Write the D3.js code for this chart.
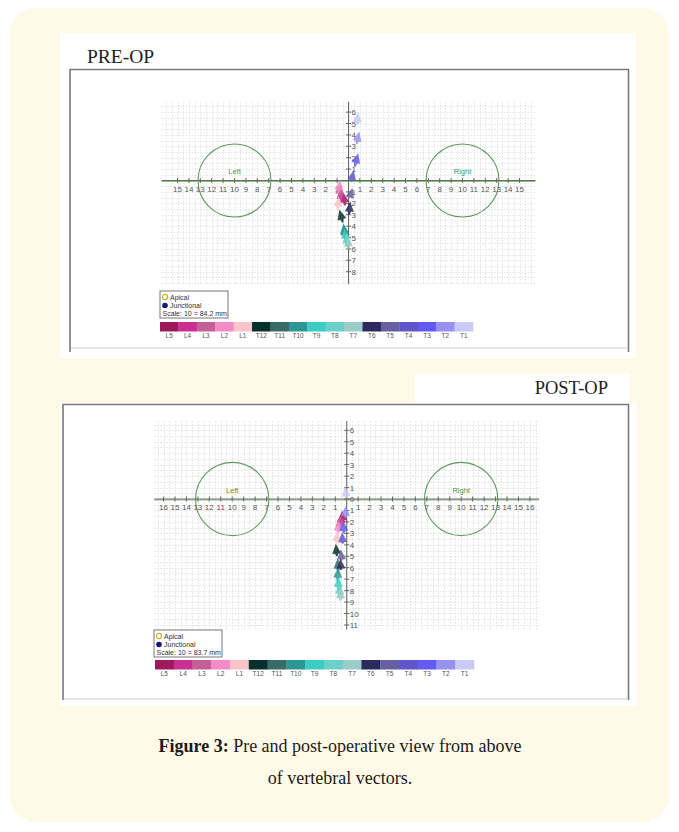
<!DOCTYPE html>
<html>
<head>
<meta charset="utf-8">
<script src="https://cdn.jsdelivr.net/npm/d3@7/dist/d3.min.js"></script>
<style>
  body { margin: 0; background: #fff; }
  svg { display: block; }
</style>
</head>
<body>
<div id="chart"></div>
<script>
// Vertebrae, in colour bar order
var vertebrae = ['L5', 'L4', 'L3', 'L2', 'L1', 'T12', 'T11', 'T10', 'T9', 'T8', 'T7', 'T6', 'T5', 'T4', 'T3', 'T2', 'T1'];
var vertebraColors = ['#9c1a5c', '#c92f93', '#c45f98', '#f28bc8', '#f7c4c8', '#06302c', '#386b66', '#2d9893',
                      '#3cccc4', '#6ccfc9', '#9accc8', '#2c2a5c', '#675fa0', '#5f57c9', '#625af2', '#9891ee', '#cdc9f6'];

// Vertebral vectors, view from above: [tailX, tailY, headX, headY] in grid units
var preVectors = [
  [-0.30, -2.20, -0.45, -1.05],
  [-0.60, -1.90, -0.75, -0.70],
  [-0.80, -1.50, -0.70, -0.30],
  [-0.90, -1.20, -0.72, 0.05],
  [-0.95, -2.60, -0.85, -1.40],
  [-0.50, -3.70, -0.80, -2.55],
  [-0.30, -5.00, -0.40, -3.90],
  [-0.25, -5.40, -0.45, -3.75],
  [-0.20, -5.60, -0.35, -4.20],
  [-0.10, -5.90, -0.20, -4.60],
  [0.00, -6.00, -0.05, -4.90],
  [0.05, -3.00, 0.15, -1.85],
  [0.10, -1.50, 0.35, -0.65],
  [0.25, -0.10, 0.45, 0.90],
  [0.55, 1.20, 0.85, 2.40],
  [0.70, 3.20, 0.95, 4.30],
  [0.75, 4.90, 0.85, 6.00]
];
var postVectors = [
  [-0.35, -2.00, -0.40, -1.00],
  [-0.50, -2.20, -0.45, -1.20],
  [-0.60, -2.60, -0.55, -1.50],
  [-0.75, -3.00, -0.70, -1.90],
  [-0.90, -3.90, -0.80, -2.80],
  [-0.85, -5.00, -0.95, -3.90],
  [-0.75, -6.40, -0.80, -5.20],
  [-0.80, -7.20, -0.75, -6.00],
  [-0.75, -8.00, -0.70, -6.80],
  [-0.65, -8.60, -0.60, -7.40],
  [-0.55, -8.90, -0.50, -7.80],
  [-0.50, -6.20, -0.55, -5.20],
  [-0.45, -5.40, -0.50, -4.40],
  [-0.35, -3.90, -0.40, -2.90],
  [-0.25, -3.00, -0.30, -1.90],
  [-0.10, -1.60, -0.10, -0.60],
  [-0.05, 0.10, -0.15, 1.10]
];

// Tick labels
var preTicksX = [-15, -14, -13, -12, -11, -10, -9, -8, -7, -6, -5, -4, -3, -2, -1, 1, 2, 3, 4, 5, 6, 7, 8, 9, 10, 11, 12, 13, 14, 15];
var preTicksY = [6, 5, 4, 3, 2, 1, -1, -2, -3, -4, -5, -6, -7, -8];
var postTicksX = [-16, -15, -14, -13, -12, -11, -10, -9, -8, -7, -6, -5, -4, -3, -2, -1, 1, 2, 3, 4, 5, 6, 7, 8, 9, 10, 11, 12, 13, 14, 15, 16];
var postTicksY = [6, 5, 4, 3, 2, 1, 0, -1, -2, -3, -4, -5, -6, -7, -8, -9, -10, -11];

// Femoral head circles
var hipCenters = [-10, 10];
var hipLabels = ['Left', 'Right'];
var hipRadius = 3.2;

var width = 679;
var height = 832;

var svg = d3.select('#chart')
            .append('svg')
            .attr('width', width)
            .attr('height', height);

// Cream page panel
svg.append('rect')
   .attr('x', 10)
   .attr('y', 8)
   .attr('width', 659)
   .attr('height', 814)
   .attr('rx', 26)
   .attr('fill', '#fffae7');

function drawPanel(opt) {
  var u = opt.unit;
  var x = d3.scaleLinear()
            .domain(opt.xDomain)
            .range([opt.ox + opt.xDomain[0] * u, opt.ox + opt.xDomain[1] * u]);
  var y = d3.scaleLinear()
            .domain(opt.yDomain)
            .range([opt.oy - opt.yDomain[0] * u, opt.oy - opt.yDomain[1] * u]);

  var g = svg.append('g')
             .attr('class', 'panel')
             .attr('font-family', '"Liberation Sans", Arial, sans-serif');

  // Dotted grid, every half unit
  var gx = d3.range(Math.ceil(opt.xDomain[0] * 2) / 2, opt.xDomain[1] + 0.01, 0.5);
  var gy = d3.range(Math.ceil(opt.yDomain[0] * 2) / 2, opt.yDomain[1] + 0.01, 0.5);
  var grid = g.append('g')
              .attr('stroke', '#e3e3e3')
              .attr('stroke-width', 1)
              .attr('stroke-dasharray', '1.5,1.5');
  grid.selectAll('.gx')
      .data(gx)
      .enter()
      .append('line')
      .attr('x1', function (d) { return Math.round(x(d)) + 0.5; })
      .attr('x2', function (d) { return Math.round(x(d)) + 0.5; })
      .attr('y1', y(opt.yDomain[1]))
      .attr('y2', y(opt.yDomain[0]));
  grid.selectAll('.gy')
      .data(gy)
      .enter()
      .append('line')
      .attr('y1', function (d) { return Math.round(y(d)) + 0.5; })
      .attr('y2', function (d) { return Math.round(y(d)) + 0.5; })
      .attr('x1', x(opt.xDomain[0]))
      .attr('x2', x(opt.xDomain[1]));

  // Femoral heads
  g.selectAll('.hip')
   .data(hipCenters)
   .enter()
   .append('circle')
   .attr('cx', function (d) { return x(d); })
   .attr('cy', y(0))
   .attr('r', x(hipRadius) - x(0))
   .attr('fill', 'none')
   .attr('stroke', '#5e9a5e')
   .attr('stroke-width', 1.1);
  g.selectAll('.hip-label')
   .data(hipCenters)
   .enter()
   .append('text')
   .attr('x', function (d) { return x(d); })
   .attr('y', y(0.55))
   .attr('text-anchor', 'middle')
   .attr('font-size', 7.5)
   .attr('fill', '#4f944f')
   .text(function (d, i) { return hipLabels[i]; });

  // Horizontal axis: gray line over a green one
  g.append('line')
   .attr('x1', x(opt.xDomain[0]))
   .attr('x2', x(opt.xDomain[1]))
   .attr('y1', y(0) + 1)
   .attr('y2', y(0) + 1)
   .attr('stroke', '#8cc07e')
   .attr('stroke-width', 1.2);
  g.append('line')
   .attr('x1', x(opt.xDomain[0]))
   .attr('x2', x(opt.xDomain[1]))
   .attr('y1', y(0))
   .attr('y2', y(0))
   .attr('stroke', '#666')
   .attr('stroke-width', 1);
  g.selectAll('.xt')
   .data(opt.ticksX)
   .enter()
   .append('line')
   .attr('x1', function (d) { return x(d); })
   .attr('x2', function (d) { return x(d); })
   .attr('y1', y(0) - 2.5)
   .attr('y2', y(0) + 2.5)
   .attr('stroke', '#666');
  g.selectAll('.xl')
   .data(opt.ticksX)
   .enter()
   .append('text')
   .attr('x', function (d) { return x(d); })
   .attr('y', y(0) + 11)
   .attr('text-anchor', 'middle')
   .attr('font-size', 8)
   .attr('fill', '#555')
   .text(function (d) { return Math.abs(d); });

  // Vertical axis
  g.append('line')
   .attr('x1', x(0))
   .attr('x2', x(0))
   .attr('y1', y(opt.yDomain[1]))
   .attr('y2', y(opt.yDomain[0]))
   .attr('stroke', '#666')
   .attr('stroke-width', 1);
  g.selectAll('.yt')
   .data(opt.ticksY)
   .enter()
   .append('line')
   .attr('x1', x(0) - 2.5)
   .attr('x2', x(0) + 2.5)
   .attr('y1', function (d) { return y(d); })
   .attr('y2', function (d) { return y(d); })
   .attr('stroke', '#666');
  g.selectAll('.yl')
   .data(opt.ticksY)
   .enter()
   .append('text')
   .attr('x', x(0) + 3)
   .attr('y', function (d) { return y(d) + 3; })
   .attr('font-size', 8)
   .attr('fill', '#555')
   .text(function (d) { return Math.abs(d); });

  // Vertebral vectors: tapered shaft with triangular head
  var vec = g.selectAll('.vector')
             .data(opt.vectors)
             .enter()
             .append('g')
             .attr('class', 'vector')
             .attr('fill', function (d, i) { return vertebraColors[i]; })
             .attr('fill-opacity', 0.85);
  vec.append('path')
     .attr('d', function (d) {
       var x0 = x(d[0]), y0 = y(d[1]), x1 = x(d[2]), y1 = y(d[3]);
       var a = Math.atan2(y1 - y0, x1 - x0);
       var c = Math.cos(a), s = Math.sin(a);
       var bx = x1 - 10 * c, by = y1 - 10 * s;
       var nx = -s, ny = c;
       return 'M' + (x0 + nx * 0.6) + ',' + (y0 + ny * 0.6) +
              'L' + (bx + nx * 1.8) + ',' + (by + ny * 1.8) +
              'L' + (bx + nx * 4.5) + ',' + (by + ny * 4.5) +
              'L' + x1 + ',' + y1 +
              'L' + (bx - nx * 4.5) + ',' + (by - ny * 4.5) +
              'L' + (bx - nx * 1.8) + ',' + (by - ny * 1.8) +
              'L' + (x0 - nx * 0.6) + ',' + (y0 - ny * 0.6) + 'Z';
     });

  // Legend box
  var lg = g.append('g')
            .attr('transform', 'translate(' + opt.legend[0] + ',' + opt.legend[1] + ')');
  lg.append('rect')
    .attr('width', 68)
    .attr('height', 27)
    .attr('fill', '#fff')
    .attr('stroke', '#777')
    .attr('stroke-width', 1);
  lg.append('circle')
    .attr('cx', 5)
    .attr('cy', 6)
    .attr('r', 2.6)
    .attr('fill', 'none')
    .attr('stroke', '#c9b512')
    .attr('stroke-width', 1.2);
  lg.append('circle')
    .attr('cx', 5)
    .attr('cy', 14.5)
    .attr('r', 2.8)
    .attr('fill', '#15157a');
  lg.selectAll('.lt')
    .data(['Apical', 'Junctional', opt.scaleText])
    .enter()
    .append('text')
    .attr('x', function (d, i) { return i < 2 ? 10 : 2.5; })
    .attr('y', function (d, i) { return 8.5 + i * 8.3; })
    .attr('font-size', 7)
    .attr('fill', '#333')
    .text(function (d) { return d; });

  // Colour bar
  var bar = d3.scaleBand()
              .domain(vertebrae)
              .range([opt.bar[0], opt.bar[0] + opt.bar[2]]);
  g.selectAll('.seg')
   .data(vertebrae)
   .enter()
   .append('rect')
   .attr('x', function (d) { return bar(d); })
   .attr('y', opt.bar[1])
   .attr('width', bar.bandwidth() + 0.3)
   .attr('height', 9.5)
   .attr('fill', function (d, i) { return vertebraColors[i]; });
  g.selectAll('.seg-label')
   .data(vertebrae)
   .enter()
   .append('text')
   .attr('x', function (d) { return bar(d) + bar.bandwidth() / 2; })
   .attr('y', opt.bar[1] + 16)
   .attr('text-anchor', 'middle')
   .attr('font-size', 6.5)
   .attr('fill', '#555')
   .text(function (d) { return d; });
}

// PRE-OP picture frame
svg.append('rect')
   .attr('x', 60).attr('y', 33)
   .attr('width', 576).attr('height', 325)
   .attr('fill', '#fff');
svg.append('path')
   .attr('d', 'M70,352V69.5H628.5V352')
   .attr('fill', 'none')
   .attr('stroke', '#7a7a7a')
   .attr('stroke-width', 1.6);
svg.append('line')
   .attr('x1', 71).attr('x2', 627)
   .attr('y1', 348).attr('y2', 348)
   .attr('stroke', '#e6e6e6')
   .attr('stroke-width', 2);
svg.append('text')
   .attr('x', 87).attr('y', 63)
   .attr('font-family', '"Liberation Serif", "Times New Roman", serif')
   .attr('font-size', 19.5)
   .attr('fill', '#222')
   .text('PRE-OP');

drawPanel({
  unit: 11.4,
  ox: 348.5,
  oy: 180.5,
  xDomain: [-16.4, 16.4],
  yDomain: [-9.1, 6.9],
  ticksX: preTicksX,
  ticksY: preTicksY,
  vectors: preVectors,
  legend: [160, 291],
  scaleText: 'Scale: 10 = 84.2 mm',
  bar: [160, 322, 313]
});

// POST-OP picture frame
svg.append('rect')
   .attr('x', 415).attr('y', 373)
   .attr('width', 215).attr('height', 32)
   .attr('fill', '#fff');
svg.append('rect')
   .attr('x', 60).attr('y', 403)
   .attr('width', 577).attr('height', 303)
   .attr('fill', '#fff');
svg.append('path')
   .attr('d', 'M63,700V404.5H628.5V700')
   .attr('fill', 'none')
   .attr('stroke', '#7a7a7a')
   .attr('stroke-width', 1.6);
svg.append('line')
   .attr('x1', 64).attr('x2', 627)
   .attr('y1', 699).attr('y2', 699)
   .attr('stroke', '#e6e6e6')
   .attr('stroke-width', 2);
svg.append('text')
   .attr('x', 608).attr('y', 394)
   .attr('text-anchor', 'end')
   .attr('font-family', '"Liberation Serif", "Times New Roman", serif')
   .attr('font-size', 18.5)
   .attr('fill', '#222')
   .text('POST-OP');

drawPanel({
  unit: 11.45,
  ox: 346.7,
  oy: 499,
  xDomain: [-16.8, 16.8],
  yDomain: [-11.4, 6.8],
  ticksX: postTicksX,
  ticksY: postTicksY,
  vectors: postVectors,
  legend: [154, 630],
  scaleText: 'Scale: 10 = 83.7 mm',
  bar: [155, 660, 319]
});

// Caption
var caption = svg.append('g')
                 .attr('font-family', '"Liberation Serif", "Times New Roman", serif')
                 .attr('font-size', 18)
                 .attr('fill', '#1a1a1a')
                 .attr('text-anchor', 'middle');
var line1 = caption.append('text')
                   .attr('x', 340)
                   .attr('y', 752);
line1.append('tspan')
     .attr('font-weight', 'bold')
     .text('Figure 3:');
line1.append('tspan')
     .text(' Pre and post-operative view from above');
caption.append('text')
       .attr('x', 340)
       .attr('y', 784)
       .text('of vertebral vectors.');
</script>
</body>
</html>
